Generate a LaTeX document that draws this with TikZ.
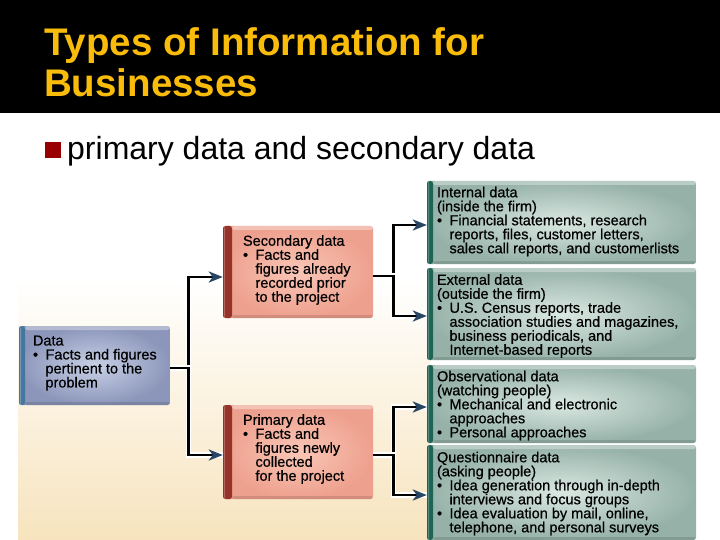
\documentclass[tikz,border=0pt]{standalone}
\usepackage{fontspec}
\setmainfont{Liberation Sans}
\newfontfamily\boxfont[FakeBold=0.6]{Liberation Sans}
\usetikzlibrary{arrows.meta}
\definecolor{titleyellow}{RGB}{250,188,10}
\definecolor{bulletred}{RGB}{153,0,0}
\definecolor{datain}{RGB}{200,208,230}
\definecolor{dataout}{RGB}{140,150,186}
\definecolor{dataside}{RGB}{70,118,158}
\definecolor{salin}{RGB}{250,198,182}
\definecolor{salout}{RGB}{238,160,142}
\definecolor{salside}{RGB}{150,50,40}
\definecolor{grnin}{RGB}{218,232,226}
\definecolor{grnout}{RGB}{150,178,168}
\definecolor{grnside}{RGB}{30,100,85}
\definecolor{arrowblue}{RGB}{40,70,100}
\definecolor{cream}{RGB}{247,228,190}
\newcommand\myb{\makebox[12.5pt][l]{\textbullet}}
\newcommand\myi{\hspace*{12.5pt}}
\tikzset{
  box/.style={inner sep=0pt, rounded corners=2.5pt},
  sideface/.style n args={2}{path picture={
      \fill[#1] (path picture bounding box.north west) rectangle ([xshift=#2]path picture bounding box.south west);
      \fill[white,opacity=.25] ([xshift=1pt]path picture bounding box.north west) rectangle ([xshift=2.2pt]path picture bounding box.south west);
      \fill[white,opacity=.35] ([xshift=#2]path picture bounding box.north west) rectangle ([yshift=-4pt]path picture bounding box.north east);
      \fill[black,opacity=.12] ([xshift=#2]path picture bounding box.south west) rectangle ([yshift=3pt]path picture bounding box.south east);}},
  databox/.style={box, inner color=datain, outer color=dataout, sideface={dataside}{6pt}},
  salbox/.style={box, inner color=salin, outer color=salout, sideface={salside}{9pt}},
  grnbox/.style={box, inner color=grnin, outer color=grnout, sideface={grnside}{6pt}},
  lbl/.style={anchor=west, align=left, inner sep=0pt, font=\boxfont\fontsize{14.5}{14}\selectfont},
  conn/.style={line width=2.8pt, -{Stealth[length=14pt,width=11pt,inset=4pt,color=arrowblue]},
    preaction={draw=white, line width=5.2pt, -}},
}
\begin{document}
\begin{tikzpicture}[x=1pt,y=-1pt]
\useasboundingbox (0,0) rectangle (720,540);
% header
\fill[black] (0,0) rectangle (720,113);
\node[anchor=base west, inner sep=0pt, text=titleyellow, font=\fontsize{38.5}{41}\selectfont\bfseries] (t1) at (44,56) {Types of Information for};
\node[anchor=base west, inner sep=0pt, text=titleyellow, font=\fontsize{38.5}{41}\selectfont\bfseries] (t2) at (44,97) {Businesses};
% bullet line
\fill[bulletred] (45,142) rectangle (61,158);
\node[anchor=base west, inner sep=0pt, font=\fontsize{32}{34}\selectfont] (sub) at (67,160) {primary data and secondary data};
% background of the figure
\shade[top color=white, bottom color=cream] (18,280) rectangle (430,540);
% boxes
\node[databox, minimum width=151pt, minimum height=79pt] (data) at (94.5,365.5) {};
\node[lbl] (data-t) at ([xshift=14pt,yshift=2.5pt]data.west) {Data\\\myb Facts and figures\\\myi pertinent to the\\\myi problem};
\node[salbox, minimum width=150pt, minimum height=92pt] (sec) at (298,272) {};
\node[lbl] (sec-t) at ([xshift=20pt,yshift=2pt]sec.west) {Secondary data\\\myb Facts and\\\myi figures already\\\myi recorded prior\\\myi to the project};
\node[salbox, minimum width=150pt, minimum height=94pt] (prim) at (298,452) {};
\node[lbl] (prim-t) at ([xshift=20pt,yshift=3pt]prim.west) {Primary data\\\myb Facts and\\\myi figures newly\\\myi collected\\\myi for the project};
\node[grnbox, minimum width=269pt, minimum height=83pt] (int) at (561.5,222.5) {};
\node[lbl] (int-t) at ([xshift=10pt,yshift=1pt]int.west) {Internal data\\(inside the firm)\\\myb Financial statements, research\\\myi reports, files, customer letters,\\\myi sales call reports, and customerlists};
\node[grnbox, minimum width=269pt, minimum height=92pt] (ext) at (561.5,314) {};
\node[lbl] (ext-t) at ([xshift=10pt,yshift=-2pt]ext.west) {External data\\(outside the firm)\\\myb U.S. Census reports, trade\\\myi association studies and magazines,\\\myi business periodicals, and\\\myi Internet-based reports};
\node[grnbox, minimum width=269pt, minimum height=78pt] (obs) at (561.5,404) {};
\node[lbl] (obs-t) at ([xshift=10pt,yshift=-1.5pt]obs.west) {Observational data\\(watching people)\\\myb Mechanical and electronic\\\myi approaches\\\myb Personal approaches};
\node[grnbox, minimum width=269pt, minimum height=95pt] (quest) at (561.5,492.5) {};
\node[lbl] (quest-t) at ([xshift=10pt,yshift=-1pt]quest.west) {Questionnaire data\\(asking people)\\\myb Idea generation through in-depth\\\myi interviews and focus groups\\\myb Idea evaluation by mail, online,\\\myi telephone, and personal surveys};
% connectors
\draw[conn] ([yshift=-2.5pt]data.east) -- ++(18,0) |- ([yshift=-5pt]sec.west);
\draw[conn] ([yshift=-2.5pt]data.east) -- ++(18,0) |- ([yshift=-3pt]prim.west);
\draw[conn] ([yshift=-4pt]sec.east) -- ++(20,0) |- ([yshift=-2.5pt]int.west);
\draw[conn] ([yshift=-4pt]sec.east) -- ++(20,0) |- ([yshift=-2pt]ext.west);
\draw[conn] ([yshift=-3pt]prim.east) -- ++(20,0) |- ([yshift=-3pt]obs.west);
\draw[conn] ([yshift=-3pt]prim.east) -- ++(20,0) |- ([yshift=-2.5pt]quest.west);
\end{tikzpicture}
\end{document}
